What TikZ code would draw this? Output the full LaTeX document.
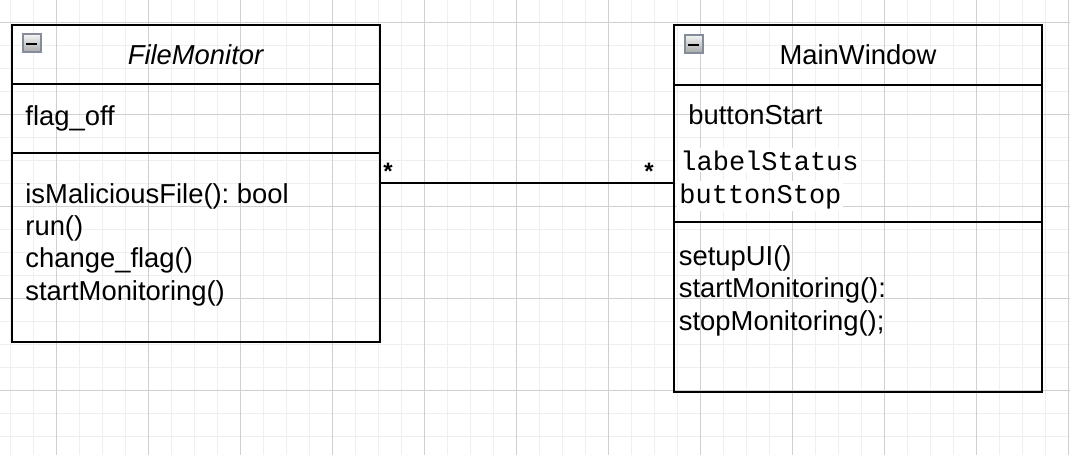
\documentclass[tikz,border=0pt]{standalone}
\usepackage{fontspec}
\setmainfont{Liberation Sans}
\setmonofont{Liberation Mono}
\usetikzlibrary{positioning,calc}
\frenchspacing

\definecolor{gridminor}{HTML}{EFEFEF}
\definecolor{gridmajor}{HTML}{D0D0D0}
\definecolor{iconedge}{HTML}{848C9A}
\definecolor{icontop}{HTML}{F6F6F6}
\definecolor{iconbottom}{HTML}{A9A9A9}

\tikzset{
  compart/.style={draw, line width=1pt, inner sep=0pt, outer sep=0pt,
    minimum width=184pt, font=\fontsize{13.7}{16}\selectfont},
  member/.style={anchor=base west, inner sep=0pt, font=\fontsize{13.7}{16}\selectfont},
  field/.style={anchor=base west, inner sep=1pt, fill=white,
    font=\ttfamily\fontsize{13.5}{16}\selectfont},
  mult/.style={anchor=base, inner sep=0pt, yshift=1.5pt,
    font=\ttfamily\bfseries\fontsize{12}{12}\selectfont},
  assoc/.style={draw, line width=1pt},
  minusbox/.style={draw=iconedge, line width=1pt, inner sep=0pt, minimum size=9pt,
    top color=icontop, bottom color=iconbottom,
    path picture={\fill[black] ([xshift=-2.75pt,yshift=-1pt]path picture bounding box.center)
      rectangle ([xshift=2.75pt]path picture bounding box.center);}}
}

\begin{document}
\begin{tikzpicture}[x=0.5pt, y=-0.5pt]
  \useasboundingbox (0,0) rectangle (1070,455);

  % Grid
  \foreach \gx in {10.3,33.3,...,1070} \draw[gridminor, line width=0.5pt] (\gx,0) -- (\gx,455);
  \foreach \gy in {22.3,45.3,...,455} \draw[gridminor, line width=0.5pt] (0,\gy) -- (1070,\gy);
  \foreach \gx in {56.3,148.3,...,1070} \draw[gridmajor, line width=0.5pt] (\gx,0) -- (\gx,455);
  \foreach \gy in {22.3,114.3,...,455} \draw[gridmajor, line width=0.5pt] (0,\gy) -- (1070,\gy);

  % FileMonitor class
  \node[compart, minimum height=29.5pt, anchor=north] (fmhead) at (196,25) {\textit{FileMonitor}};
  \node[compart, minimum height=34.5pt, below=0pt of fmhead] (fmattr) {};
  \node[compart, minimum height=94.5pt, below=0pt of fmattr] (fmops) {};
  \node[minusbox] (fmicon) at (31.7,43) {};

  % MainWindow class
  \node[compart, minimum height=30pt, anchor=north] (mwhead) at (858,25) {MainWindow};
  \node[compart, minimum height=68.5pt, below=0pt of mwhead] (mwattr) {};
  \node[compart, minimum height=85pt, below=0pt of mwattr] (mwops) {};
  \node[minusbox] (mwicon) at (693.5,43.5) {};

  % Attributes
  \node[member] (flagoff) at ($(fmattr.north west)+(13,41)$) {flag\_off};
  \node[member] (btnstart) at ($(mwattr.north west)+(14,39.3)$) {buttonStart};
  \node[field] (lblstatus) at ($(mwattr.north west)+(4,85)$) {labelStatus};
  \node[field] (btnstop) at ($(mwattr.north west)+(3,118)$) {buttonStop};

  % Operations
  \foreach \op [count=\i] in {isMaliciousFile(): bool, run(), change\_flag(), startMonitoring()}
    \node[member] (fmop\i) at ($(fmops.north west)+(13,{50.5+32.2*(\i-1)})$) {\op};
  \foreach \op [count=\i] in {setupUI(), startMonitoring():, stopMonitoring();}
    \node[member] (mwop\i) at ($(mwops.north west)+(4.5,{43+32.7*(\i-1)})$) {\op};

  % Association
  \coordinate (link) at (0,183);
  \draw[assoc] (fmops.east |- link) -- (mwattr.west |- link)
    node[mult, pos=0, xshift=4pt] {*}
    node[mult, pos=1, xshift=-12.5pt] {*};
\end{tikzpicture}
\end{document}
